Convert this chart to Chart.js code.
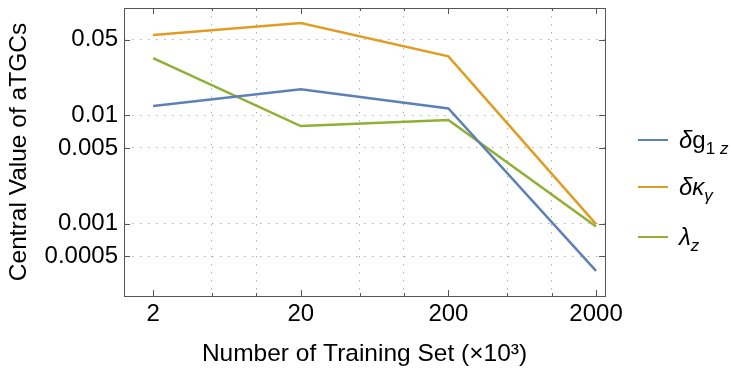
<!DOCTYPE html>
<html lang="en">
<head>
    <meta charset="UTF-8">
    <title>Central Value of aTGCs</title>
    <script src="https://cdn.jsdelivr.net/npm/chart.js"></script>
    <style>
        body {
            margin: 0;
            background: #fff;
            font-family: "Liberation Sans", Arial, sans-serif;
        }
        .wrap {
            position: relative;
            width: 732px;
            height: 369px;
        }
        .legend {
            position: absolute;
            left: 638px;
            top: 0;
        }
        .legend .item {
            position: absolute;
            left: 0;
            width: 100px;
            height: 26px;
            display: flex;
            align-items: center;
            font-size: 24px;
            color: #000;
            white-space: nowrap;
        }
        .legend .swatch {
            width: 30px;
            height: 2.5px;
            margin-right: 11px;
        }
        .legend i { font-style: italic; }
        .legend sub { font-size: 17px; vertical-align: -6px; line-height: 0; }
    </style>
</head>
<body>
<div class="wrap">
    <canvas id="chart"></canvas>
    <div class="legend" id="legend"></div>
</div>

<script>
// training set sizes (x10^3)
const trainingSizes = [2, 20, 200, 2000];
const seriesNames = ['δg1z', 'δκγ', 'λz'];
const seriesLabelsHtml = [
    '<i>δ</i>g<sub>1 <i>z</i></sub>',
    '<i>δκ</i><sub><i>γ</i></sub>',
    '<i>λ</i><sub><i>z</i></sub>'
];
const dg1z = [0.0122, 0.0174, 0.0116, 0.000367];
const dkappa = [0.0553, 0.0711, 0.0351, 0.00099];
const lambdaZ = [0.0337, 0.00796, 0.00905, 0.000944];
const seriesColors = ['#5e81b5', '#e19c24', '#8fb032'];

const xMajor = [2, 20, 200, 2000];
const xMinor = [5, 10, 50, 100, 500, 1000];
const yTicks = [0.0005, 0.001, 0.005, 0.01, 0.05];

const FONT = '"Liberation Sans", Arial, sans-serif';
Chart.defaults.font.family = FONT;
Chart.defaults.color = '#000';

const gridGray = '#b0b0b0';

// frame with inward ticks, like the original plot
const framePlugin = {
    id: 'frame',
    afterDraw(chart) {
        const { ctx, chartArea: a, scales } = chart;
        ctx.save();
        ctx.strokeStyle = '#555';
        ctx.lineWidth = 1;
        ctx.strokeRect(a.left + 0.5, a.top + 0.5, a.right - a.left, a.bottom - a.top);
        ctx.beginPath();
        xMajor.concat(xMinor).forEach(v => {
            const x = Math.round(scales.x.getPixelForValue(v)) + 0.5;
            const len = xMajor.includes(v) ? 6 : 3;
            ctx.moveTo(x, a.bottom); ctx.lineTo(x, a.bottom - len);
            ctx.moveTo(x, a.top); ctx.lineTo(x, a.top + len);
        });
        yTicks.forEach(v => {
            const y = Math.round(scales.y.getPixelForValue(v)) + 0.5;
            ctx.moveTo(a.left, y); ctx.lineTo(a.left + 6, y);
            ctx.moveTo(a.right, y); ctx.lineTo(a.right - 6, y);
        });
        ctx.stroke();
        ctx.restore();
    }
};

const datasets = [dg1z, dkappa, lambdaZ].map((vals, i) => ({
    label: seriesNames[i],
    data: trainingSizes.map((x, j) => ({ x: x, y: vals[j] })),
    borderColor: seriesColors[i],
    backgroundColor: seriesColors[i],
    borderWidth: 2.5,
    pointRadius: 0,
    tension: 0
}));

new Chart(document.getElementById('chart'), {
    type: 'line',
    data: { datasets },
    plugins: [framePlugin],
    options: {
        responsive: true,
        maintainAspectRatio: false,
        animation: false,
        layout: { padding: { top: 8, right: 127, left: 0, bottom: 0 } },
        plugins: {
            legend: { display: false },
            tooltip: { enabled: false }
        },
        scales: {
            x: {
                type: 'logarithmic',
                min: 1.27,
                max: 2300,
                afterBuildTicks: scale => {
                    scale.ticks = xMajor.concat(xMinor).sort((a, b) => a - b).map(v => ({ value: v }));
                },
                afterFit: scale => {
                    scale.height = 73;
                    scale.paddingLeft = 0;
                    scale.paddingRight = 0;
                },
                ticks: {
                    autoSkip: false,
                    maxRotation: 0,
                    padding: 4,
                    font: { size: 24 },
                    callback: v => xMajor.includes(v) ? String(v) : ''
                },
                grid: {
                    drawTicks: false,
                    lineWidth: 1,
                    color: c => (c.tick && xMinor.includes(c.tick.value)) ? gridGray : 'transparent'
                },
                border: { display: false, dash: [1.5, 6.5] },
                title: {
                    display: true,
                    text: 'Number of Training Set (×10³)',
                    font: { size: 24.5 },
                    padding: { top: 0, bottom: 0 }
                }
            },
            y: {
                type: 'logarithmic',
                min: 0.000215,
                max: 0.098,
                afterBuildTicks: scale => {
                    scale.ticks = yTicks.map(v => ({ value: v }));
                },
                afterFit: scale => {
                    scale.width = 124;
                    scale.paddingTop = 0;
                    scale.paddingBottom = 0;
                },
                ticks: {
                    autoSkip: false,
                    padding: 6,
                    font: { size: 24 },
                    callback: v => String(v)
                },
                grid: {
                    drawTicks: false,
                    lineWidth: 1,
                    color: gridGray
                },
                border: { display: false, dash: [1.5, 6.5] },
                title: {
                    display: true,
                    text: 'Central Value of aTGCs',
                    font: { size: 24.5 },
                    padding: { top: 5, bottom: 4 }
                }
            }
        }
    }
});

// legend (html so the sub/italic text stays real text)
const legendTops = [127, 174, 224];
const legend = document.getElementById('legend');
seriesLabelsHtml.forEach((html, i) => {
    const item = document.createElement('div');
    item.className = 'item';
    item.style.top = legendTops[i] + 'px';
    item.innerHTML = '<span class="swatch" style="background:' + seriesColors[i] + '"></span><span>' + html + '</span>';
    legend.appendChild(item);
});
</script>
</body>
</html>
